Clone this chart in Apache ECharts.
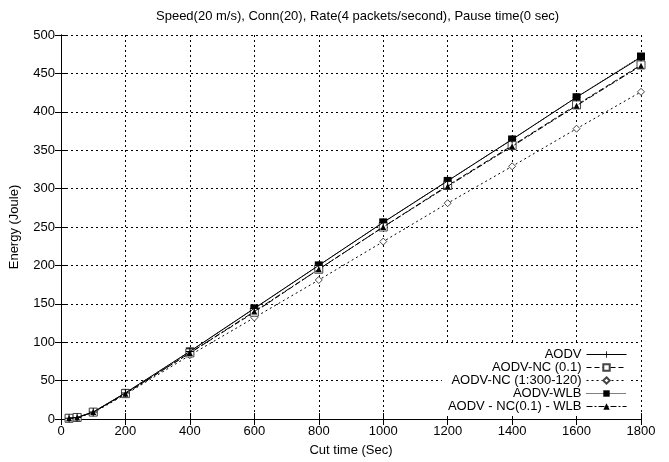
<!DOCTYPE html>
<html>
<head>
<meta charset="utf-8">
<script src="https://cdn.jsdelivr.net/npm/echarts@6/dist/echarts.min.js"></script>
<style>
  html, body { margin: 0; padding: 0; background: #fff; }
  #chart { width: 669px; height: 462px; }
</style>
</head>
<body>
<div id="chart"></div>
<script>
// Cut times (seconds) at which energy was sampled
const cutTimes = [25, 50, 100, 200, 400, 600, 800, 1000, 1200, 1400, 1600, 1800];

// Consumed energy (Joule) per protocol
const aodv        = [1, 2, 9, 34, 88, 144, 200, 256, 310, 364, 419, 471];
const aodvNc01    = [1, 2, 9, 33, 86, 139, 195, 250, 304, 356, 409, 461];
const aodvNcRatio = [1, 2, 8, 32, 83, 132, 181, 231, 281, 329, 378, 426];
const aodvWlb     = [1, 2, 9, 34, 88, 144, 200, 256, 310, 364, 419, 472];
const aodvNcWlb   = [1, 2, 9, 33, 86, 140, 195, 250, 303, 355, 408, 460];

const seriesNames = ['AODV', 'AODV-NC (0.1)', 'AODV-NC (1:300-120)', 'AODV-WLB', 'AODV - NC(0.1) - WLB'];

const FONT = '"Liberation Sans", Arial, Helvetica, sans-serif';
const FS = 13;
const plusPath = 'path://M3.5,0h1v3.5h3.5v1h-3.5v3.5h-1v-3.5h-3.5v-1h3.5z';

function pairs(vals) {
  return cutTimes.map((t, i) => [t, vals[i]]);
}

function lineSeries(name, vals, lineType, symbol, size, filled, z) {
  return {
    name: name,
    type: 'line',
    data: pairs(vals),
    symbol: symbol,
    symbolSize: size,
    showAllSymbol: true,
    z: z,
    lineStyle: { color: '#000', width: 1, type: lineType },
    itemStyle: {
      color: filled ? '#000' : '#fff',
      borderColor: filled ? '#000' : '#444',
      borderWidth: filled ? 0 : 1
    },
    emphasis: { disabled: true },
    animation: false
  };
}

const chart = echarts.init(document.getElementById('chart'), null, { renderer: 'canvas' });

const gridLine = { show: true, lineStyle: { color: '#000', width: 1, type: [2, 3] } };
const tickStyle = { show: true, inside: true, length: 6, lineStyle: { color: '#000', width: 1 } };
const axisLineStyle = { show: true, lineStyle: { color: '#000', width: 1 } };
const plainNum = v => String(v);

chart.setOption({
  backgroundColor: '#fff',
  animation: false,
  title: {
    text: 'Speed(20 m/s), Conn(20), Rate(4 packets/second), Pause time(0 sec)',
    left: 151,
    top: 5,
    textStyle: { fontFamily: FONT, fontSize: FS, fontWeight: 'normal', color: '#000' }
  },
  grid: { left: 61, right: 28, top: 35, bottom: 42, containLabel: false },
  legend: {
    data: seriesNames,
    orient: 'vertical',
    right: 38,
    top: 345,
    align: 'right',
    itemWidth: 40,
    itemHeight: 8,
    itemGap: 0,
    padding: [3, 4, 3, 6],
    backgroundColor: '#fff',
    lineStyle: { width: 1 },
    textStyle: { fontFamily: FONT, fontSize: FS, color: '#000', lineHeight: 13 },
    selectedMode: false
  },
  xAxis: [
    {
      type: 'value', min: 0, max: 1800, interval: 200,
      name: 'Cut time (Sec)', nameLocation: 'middle', nameGap: 25,
      nameTextStyle: { fontFamily: FONT, fontSize: FS, color: '#000' },
      axisLine: axisLineStyle, axisTick: tickStyle,
      axisLabel: { fontFamily: FONT, fontSize: FS, color: '#000', margin: 6, formatter: plainNum },
      splitLine: gridLine
    },
    {
      type: 'value', min: 0, max: 1800, interval: 200, position: 'top',
      axisLine: axisLineStyle, axisTick: tickStyle,
      axisLabel: { show: false }, splitLine: { show: false }
    }
  ],
  yAxis: [
    {
      type: 'value', min: 0, max: 500, interval: 50,
      name: 'Energy (Joule)', nameLocation: 'middle', nameGap: 40, nameRotate: 90,
      nameTextStyle: { fontFamily: FONT, fontSize: FS, color: '#000' },
      axisLine: axisLineStyle, axisTick: tickStyle,
      axisLabel: { fontFamily: FONT, fontSize: FS, color: '#000', margin: 6, formatter: plainNum },
      splitLine: gridLine
    },
    {
      type: 'value', min: 0, max: 500, interval: 50, position: 'right',
      axisLine: axisLineStyle, axisTick: tickStyle,
      axisLabel: { show: false }, splitLine: { show: false }
    }
  ],
  series: [
    lineSeries(seriesNames[0], aodv, 'solid', plusPath, 8, true, 5),
    lineSeries(seriesNames[1], aodvNc01, [5, 3], 'rect', 8, false, 4),
    lineSeries(seriesNames[2], aodvNcRatio, [2, 3], 'diamond', 7, false, 3),
    lineSeries(seriesNames[3], aodvWlb, [1, 1], 'rect', 8, true, 2),
    lineSeries(seriesNames[4], aodvNcWlb, [6, 2, 2, 2], 'triangle', 6, true, 6)
  ]
});
</script>
</body>
</html>
